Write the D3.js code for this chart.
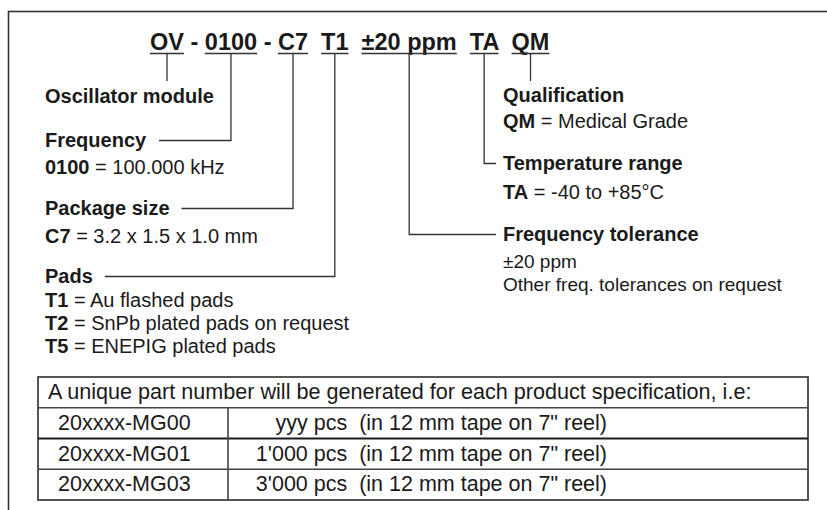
<!DOCTYPE html>
<html>
<head>
<meta charset="utf-8">
<script src="https://cdn.jsdelivr.net/npm/d3@7"></script>
<style>
  body { margin: 0; background: #fff; }
  svg text { font-family: "Liberation Sans", Arial, Helvetica, sans-serif; fill: #1a1a1a; white-space: pre; }
</style>
</head>
<body>
<div id="canvas"></div>
<script>
// part number code, split in its fields
var header = 'OV - 0100 - C7  T1  ±20 ppm  TA  QM';
var codes = ['OV', '0100', 'C7', 'T1', '±20 ppm', 'TA', 'QM'];
var titles = ['Oscillator module', 'Frequency', 'Package size', 'Pads',
              'Frequency tolerance', 'Temperature range', 'Qualification'];
// description lines per field: [bold key, plain text]
var details = [
  [],
  [['0100', ' = 100.000 kHz']],
  [['C7', ' = 3.2 x 1.5 x 1.0 mm']],
  [['T1', ' = Au flashed pads'], ['T2', ' = SnPb plated pads on request'], ['T5', ' = ENEPIG plated pads']],
  [['', '±20 ppm'], ['', 'Other freq. tolerances on request']],
  [['TA', ' = -40 to +85°C']],
  [['QM', ' = Medical Grade']]
];

// ordering table
var tableNote = 'A unique part number will be generated for each product specification, i.e:';
var partNumbers = ['20xxxx-MG00', '20xxxx-MG01', '20xxxx-MG03'];
var quantities = ['yyy', "1'000", "3'000"];
var packaging = '(in 12 mm tape on 7" reel)';

var W = 827, H = 510;
var svg = d3.select('#canvas').append('svg')
    .attr('width', W)
    .attr('height', H);

var lineCol = '#333';

// outer frame (runs off the right and bottom)
svg.append('rect')
    .attr('x', 8.5).attr('y', 11.5)
    .attr('width', W + 20).attr('height', H + 20)
    .attr('fill', 'none')
    .attr('stroke', lineCol)
    .attr('stroke-width', 1.6);

// 1, header with underlined fields
var head = svg.append('text')
    .attr('x', 150).attr('y', 50)
    .attr('font-size', 23.5)
    .attr('font-weight', 'bold')
    .text(header);

var underY = 53.5;
var pos = 0;
var tokens = codes.map(function(c){
  var i = header.indexOf(c, pos);
  pos = i + c.length;
  var x0 = head.node().getStartPositionOfChar(i).x;
  var x1 = head.node().getEndPositionOfChar(i + c.length - 1).x;
  return {code: c, x0: x0, x1: x1, cx: (x0 + x1) / 2};
});

svg.selectAll('line.under')
    .data(tokens)
    .enter().append('line')
    .attr('class', 'under')
    .attr('x1', function(d){ return d.x0; })
    .attr('x2', function(d){ return d.x1; })
    .attr('y1', underY).attr('y2', underY)
    .attr('stroke', lineCol)
    .attr('stroke-width', 1.5);

// 2, labels: left column fields 0-3, right column 4-6
var leftX = 45, rightX = 503;
var titleY = [103, 147, 215, 283, 241, 170, 102];
var firstGap = [0, 27, 28, 24, 27, 29, 26];
var lineGap = 23;

var blocks = svg.selectAll('g.block')
    .data(titles)
    .enter().append('g')
    .attr('class', 'block');

blocks.append('text')
    .attr('class', 'title')
    .attr('x', function(d, i){ return i < 4 ? leftX : rightX; })
    .attr('y', function(d, i){ return titleY[i]; })
    .attr('font-size', 20)
    .attr('font-weight', 'bold')
    .text(function(d){ return d; });

blocks.each(function(d, i){
  var g = d3.select(this);
  details[i].forEach(function(line, j){
    var t = g.append('text')
        .attr('x', i < 4 ? leftX : rightX)
        .attr('y', titleY[i] + firstGap[i] + j * lineGap)
        .attr('font-size', line[0] ? 20 : 19);
    if (line[0]) t.append('tspan').attr('font-weight', 'bold').text(line[0]);
    t.append('tspan').text(line[1]);
  });
});

// 3, leader lines from the code fields to the labels
var titleNodes = blocks.select('text.title').nodes();
var leaders = tokens.map(function(tk, i){
  var bb = titleNodes[i].getBBox();
  if (i === 0 || i === 6) {
    return [[tk.cx, underY], [tk.cx, 81]];
  }
  var y = titleY[i] - 6.5;
  if (i < 4) {
    return [[tk.cx, underY], [tk.cx, y], [bb.x + bb.width + 12, y]];
  }
  return [[tk.cx, underY], [tk.cx, y], [bb.x - 7, y]];
});

svg.selectAll('path.leader')
    .data(leaders)
    .enter().append('path')
    .attr('class', 'leader')
    .attr('d', d3.line())
    .attr('fill', 'none')
    .attr('stroke', lineCol)
    .attr('stroke-width', 1.3);

// 4, table
var tx = d3.scaleLinear().domain([0, 1]).range([38, 808]);
var colX = 228;
var ty = d3.scaleLinear().domain([0, 4]).range([377, 500]);

var table = svg.append('g');
table.append('rect')
    .attr('x', tx(0)).attr('y', ty(0))
    .attr('width', tx(1) - tx(0)).attr('height', ty(4) - ty(0))
    .attr('fill', 'none')
    .attr('stroke', '#444')
    .attr('stroke-width', 1.8);

table.selectAll('line.row')
    .data([1, 2, 3])
    .enter().append('line')
    .attr('class', 'row')
    .attr('x1', tx(0)).attr('x2', tx(1))
    .attr('y1', function(d){ return ty(d); })
    .attr('y2', function(d){ return ty(d); })
    .attr('stroke', function(d){ return d === 2 ? '#1a1a1a' : '#444'; })
    .attr('stroke-width', function(d){ return d === 2 ? 2.2 : 1.6; });

table.append('line')
    .attr('x1', colX).attr('x2', colX)
    .attr('y1', ty(1)).attr('y2', ty(4))
    .attr('stroke', '#444')
    .attr('stroke-width', 1.6);

table.append('text')
    .attr('x', tx(0) + 10)
    .attr('y', ty(0) + 22)
    .attr('font-size', 21.6)
    .text(tableNote);

table.selectAll('text.part')
    .data(partNumbers)
    .enter().append('text')
    .attr('class', 'part')
    .attr('x', tx(0) + 20)
    .attr('y', function(d, i){ return ty(i + 1) + 22; })
    .attr('font-size', 21.5)
    .text(function(d){ return d; });

table.selectAll('text.qty')
    .data(quantities)
    .enter().append('text')
    .attr('class', 'qty')
    .attr('x', 607)
    .attr('y', function(d, i){ return ty(i + 1) + 22; })
    .attr('font-size', 21.5)
    .attr('text-anchor', 'end')
    .text(function(d){ return d + ' pcs  ' + packaging; });
</script>
</body>
</html>
